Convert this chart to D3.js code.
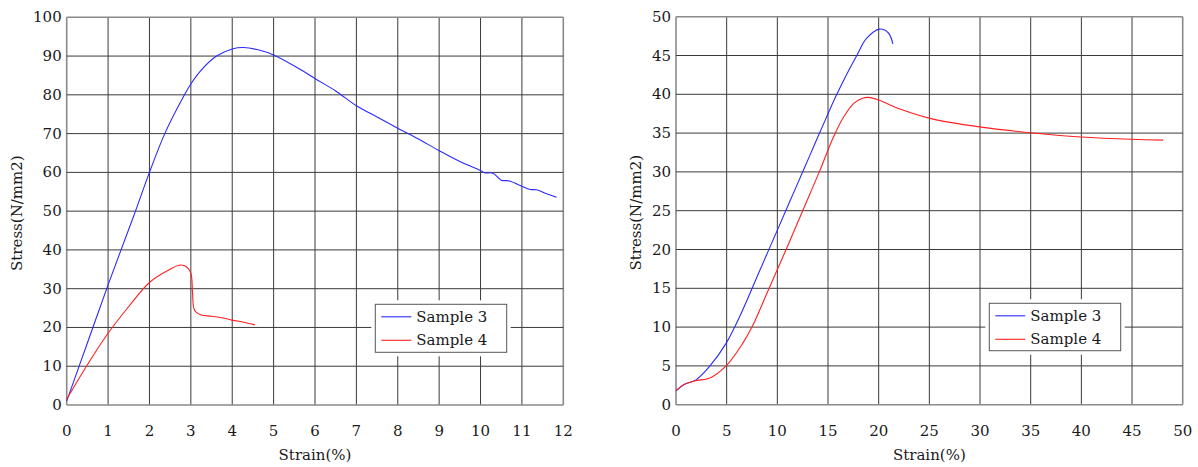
<!DOCTYPE html>
<html><head><meta charset="utf-8">
<script src="https://cdn.jsdelivr.net/npm/d3@7"></script>
<style>body{margin:0;background:#fff}svg{display:block}text{font-family:"DejaVu Serif",serif;fill:#1a1a1a}</style>
</head><body><svg id="c" width="1198" height="467"></svg>
<script>
// Left panel data
const leftXTicks = [0,1,2,3,4,5,6,7,8,9,10,11,12];
const leftYTicks = [0,10,20,30,40,50,60,70,80,90,100];
const leftS3x = [0,0.5,1,1.61,2,2.37,2.82,3.0,3.22,3.62,4.02,4.27,4.67,5,5.64,6,6.5,7,7.5,8,8.5,9,9.5,10,10.1,10.3,10.5,10.7,11,11.2,11.35,11.6,11.84];
const leftS3y = [1,16,31,48.5,60,70,79.5,82.8,86,90,91.9,92.2,91.5,90.3,86.6,84.2,81,77.2,74.3,71.4,68.6,65.6,62.8,60.5,59.9,59.8,58,57.8,56.4,55.6,55.5,54.5,53.6];
const leftS4x = [0,0.5,1,1.5,2,2.5,2.75,2.9,3.0,3.04,3.07,3.12,3.25,3.5,3.75,4,4.25,4.5,4.55];
const leftS4y = [1.5,10.4,18.5,25.4,31.6,35,36.1,35.6,34,29,25,24,23.2,22.9,22.5,21.9,21.4,20.8,20.7];
// Right panel data
const rightXTicks = [0,5,10,15,20,25,30,35,40,45,50];
const rightYTicks = [0,5,10,15,20,25,30,35,40,45,50];
const rightS3x = [0,0.8,1.97,3.29,4.94,6.58,8.2,9.97,11.6,13.2,14.8,15.8,16.9,17.84,18.8,20.1,20.96,21.4];
const rightS3y = [1.8,2.6,3.2,4.9,7.9,12.2,17.1,22.4,27.3,32.1,36.9,39.8,42.7,45.0,47.2,48.4,47.9,46.5];
const rightS4x = [0,0.8,1.97,3.29,4.94,6.58,7.57,9.05,10.9,12.5,14.14,15.54,16.6,17.6,18.4,19.0,20.1,22.1,25.07,29.94,34.95,39.98,44.98,48.07];
const rightS4y = [1.8,2.6,3.1,3.4,5.0,7.9,10.2,14.6,20.1,25,30,34.5,37.2,38.9,39.5,39.6,39.2,38.1,36.9,35.8,35.05,34.5,34.2,34.1];
const seriesNames = ["Sample 3","Sample 4"];
const seriesColors = ["#2a2aff","#ff2020"];

const svg = d3.select("#c");

function panel(opt){
  const g = svg.append("g");
  const x = d3.scaleLinear().domain(opt.xd).range([opt.l, opt.r]);
  const y = d3.scaleLinear().domain(opt.yd).range([opt.b, opt.t]);
  // grid
  g.append("g").selectAll("line").data(opt.xt).join("line")
    .attr("x1",d=>x(d)).attr("x2",d=>x(d)).attr("y1",opt.t).attr("y2",opt.b)
    .attr("stroke",(d,i)=>(i===0||i===opt.xt.length-1)?"#8a8a8a":"#3a3a3a").attr("stroke-width",(d,i)=>(i===0||i===opt.xt.length-1)?1.6:1);
  g.append("g").selectAll("line").data(opt.yt).join("line")
    .attr("y1",d=>y(d)).attr("y2",d=>y(d)).attr("x1",opt.l).attr("x2",opt.r)
    .attr("stroke",(d,i)=>(i===0||i===opt.yt.length-1)?"#8a8a8a":"#3a3a3a").attr("stroke-width",(d,i)=>(i===0||i===opt.yt.length-1)?1.6:1);
  // tick labels
  g.append("g").selectAll("text").data(opt.xt).join("text")
    .attr("x",d=>x(d)).attr("y",opt.b+31).attr("text-anchor","middle").attr("font-size",15).text(d=>d);
  g.append("g").selectAll("text").data(opt.yt).join("text")
    .attr("x",opt.l-5).attr("y",d=>y(d)+5).attr("text-anchor","end").attr("font-size",15).text(d=>d);
  // titles
  g.append("text").attr("x",(opt.l+opt.r)/2).attr("y",opt.b+55).attr("text-anchor","middle").attr("font-size",15).text("Strain(%)");
  g.append("text").attr("transform",`translate(${opt.ytx},${(opt.t+opt.b)/2+2}) rotate(-90)`).attr("text-anchor","middle").attr("font-size",15).text("Stress(N/mm2)");
  // series
  const line = d3.line().x(d=>x(d[0])).y(d=>y(d[1])).curve(d3.curveCatmullRom.alpha(0.5));
  opt.series.forEach((s,i)=>{
    const pts = s.x.map((v,k)=>[v,s.y[k]]);
    g.append("path").attr("d",line(pts)).attr("fill","none").attr("stroke",seriesColors[i]).attr("stroke-width",1.1);
  });
  // legend
  const L = opt.leg;
  g.append("rect").attr("x",L.x-4).attr("y",L.y-4).attr("width",L.w+8).attr("height",L.h+8).attr("fill","#fff");
  g.append("rect").attr("x",L.x).attr("y",L.y).attr("width",L.w).attr("height",L.h).attr("fill","#fff").attr("stroke","#555").attr("stroke-width",1);
  seriesNames.forEach((n,i)=>{
    const yy = L.y+12.5+i*23.5;
    g.append("line").attr("x1",L.x+6).attr("x2",L.x+36).attr("y1",yy).attr("y2",yy).attr("stroke",seriesColors[i]).attr("stroke-width",1.1);
    g.append("text").attr("x",L.x+41).attr("y",yy+5).attr("font-size",15).text(n);
  });
}

panel({xd:[0,12], yd:[0,100], l:66.7, r:563.3, t:17.3, b:405, xt:leftXTicks, yt:leftYTicks, ytx:22,
  series:[{x:leftS3x,y:leftS3y},{x:leftS4x,y:leftS4y}], leg:{x:375.3,y:304.3,w:131.4,h:48}});
panel({xd:[0,50], yd:[0,50], l:676, r:1182.7, t:16.7, b:404.7, xt:rightXTicks, yt:rightYTicks, ytx:641,
  series:[{x:rightS3x,y:rightS3y},{x:rightS4x,y:rightS4y}], leg:{x:989.3,y:303.3,w:131.4,h:47.4}});
</script></body></html>
